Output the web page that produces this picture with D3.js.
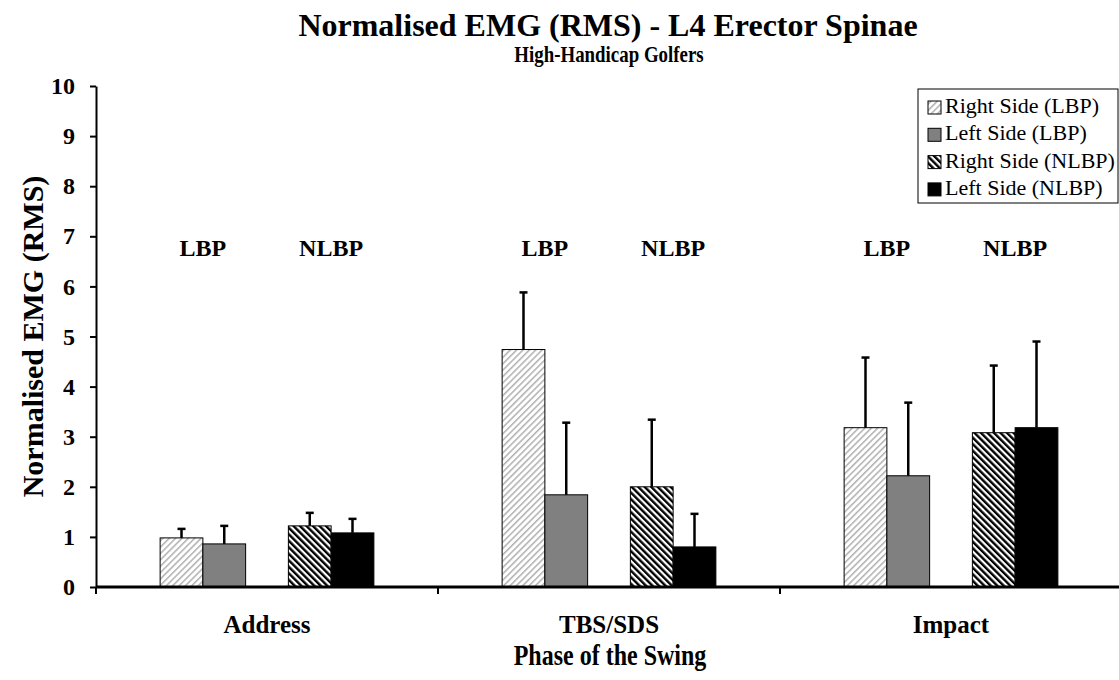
<!DOCTYPE html>
<html>
<head>
<meta charset="utf-8">
<script src="https://cdn.jsdelivr.net/npm/d3@7"></script>
<style>
  body { margin: 0; background: #fff; }
  svg text { font-family: "Liberation Serif", "Times New Roman", serif; }
</style>
</head>
<body>
<div id="chartDiv"></div>
<script>
'use strict';

// data
const phases = ['Address', 'TBS/SDS', 'Impact'];
const seriesNames = ['Right Side (LBP)', 'Left Side (LBP)', 'Right Side (NLBP)', 'Left Side (NLBP)'];
const rightLBP  = [0.98, 4.74, 3.18];
const leftLBP   = [0.86, 1.84, 2.22];
const rightNLBP = [1.22, 2.00, 3.08];
const leftNLBP  = [1.08, 0.80, 3.18];
const rightLBPErr  = [0.18, 1.14, 1.40];
const leftLBPErr   = [0.36, 1.44, 1.46];
const rightNLBPErr = [0.26, 1.34, 1.34];
const leftNLBPErr  = [0.28, 0.66, 1.72];
const groupLabels = ['LBP', 'NLBP'];
const yTicks = [0, 1, 2, 3, 4, 5, 6, 7, 8, 9, 10];

const W = 1119, H = 680;
const margin = { left: 96, top: 86, bottom: 93 };

const svg = d3.select('#chartDiv').append('svg')
    .attr('width', W).attr('height', H);

const defs = svg.append('defs');
// light hatch "///"
const p1 = defs.append('pattern').attr('id', 'hatchLight')
    .attr('patternUnits', 'userSpaceOnUse').attr('width', 4.5).attr('height', 4.5)
    .attr('patternTransform', 'rotate(45)');
p1.append('rect').attr('width', 4.5).attr('height', 4.5).attr('fill', '#fff');
p1.append('rect').attr('width', 1.5).attr('height', 4.5).attr('fill', '#b0b0b0');
// dark hatch "\\\"
const p2 = defs.append('pattern').attr('id', 'hatchDark')
    .attr('patternUnits', 'userSpaceOnUse').attr('width', 4.6).attr('height', 4.6)
    .attr('patternTransform', 'rotate(-45)');
p2.append('rect').attr('width', 4.6).attr('height', 4.6).attr('fill', '#fff');
p2.append('rect').attr('width', 2.4).attr('height', 4.6).attr('fill', '#000');

const fills = ['url(#hatchLight)', '#808080', 'url(#hatchDark)', '#000'];

const x0 = d3.scaleBand().domain(phases).range([margin.left, margin.left + 3 * 342]);
// five slots per phase, the middle one left empty
const slots = [0, 1, 2, 3, 4];
const seriesSlot = [0, 1, 3, 4];
const x1 = d3.scaleBand().domain(slots).range([0, x0.bandwidth()]).paddingOuter(1.5);
const y = d3.scaleLinear().domain([0, 10]).range([H - margin.bottom, margin.top]);

const values = [rightLBP, leftLBP, rightNLBP, leftNLBP];
const errs = [rightLBPErr, leftLBPErr, rightNLBPErr, leftNLBPErr];

const bars = [];
phases.forEach((ph, i) => {
    values.forEach((vals, s) => {
        bars.push({ phase: ph, s: s, v: vals[i], e: errs[s][i] });
    });
});

const g = svg.append('g');

g.selectAll('rect.bar').data(bars).enter().append('rect')
    .attr('class', 'bar')
    .attr('x', d => x0(d.phase) + x1(seriesSlot[d.s]))
    .attr('y', d => y(d.v))
    .attr('width', x1.bandwidth())
    .attr('height', d => y(0) - y(d.v))
    .attr('fill', d => fills[d.s])
    .attr('stroke', '#000').attr('stroke-width', 1);

// error bars (upper only)
const cx = d => x0(d.phase) + x1(seriesSlot[d.s]) + x1.bandwidth() / 2;
g.selectAll('line.err').data(bars).enter().append('line')
    .attr('x1', cx).attr('x2', cx)
    .attr('y1', d => y(d.v)).attr('y2', d => y(d.v + d.e))
    .attr('stroke', '#000').attr('stroke-width', 2.5);
g.selectAll('line.cap').data(bars).enter().append('line')
    .attr('x1', d => cx(d) - 4).attr('x2', d => cx(d) + 4)
    .attr('y1', d => y(d.v + d.e)).attr('y2', d => y(d.v + d.e))
    .attr('stroke', '#000').attr('stroke-width', 2.5);

// group labels LBP / NLBP
phases.forEach(ph => {
    groupLabels.forEach((lab, k) => {
        g.append('text')
            .attr('x', x0(ph) + x1(k * 3) + x1.bandwidth())
            .attr('y', y(6.6))
            .attr('text-anchor', 'middle')
            .attr('font-size', 24).attr('font-weight', 'bold')
            .text(lab);
    });
});

// axes
const yAxis = svg.append('g')
    .attr('transform', `translate(${margin.left},0)`)
    .call(d3.axisLeft(y).tickValues(yTicks).tickSize(6).tickSizeOuter(0).tickPadding(15));
yAxis.select('.domain').attr('stroke-width', 2);
yAxis.selectAll('.tick line').attr('stroke-width', 2);
yAxis.selectAll('.tick text').attr('font-size', 24).attr('font-weight', 'bold')
    .attr('font-family', '"Liberation Serif", serif').attr('fill', '#000');

const xAxis = svg.append('g')
    .attr('transform', `translate(0,${y(0)})`);
xAxis.append('line').attr('x1', margin.left).attr('x2', W)
    .attr('stroke', '#000').attr('stroke-width', 3);
xAxis.selectAll('line.xt').data(phases).enter().append('line')
    .attr('x1', d => x0(d)).attr('x2', d => x0(d))
    .attr('y1', 0).attr('y2', 7)
    .attr('stroke', '#000').attr('stroke-width', 2);
xAxis.selectAll('text').data(phases).enter().append('text')
    .attr('x', d => x0(d) + x0.bandwidth() / 2)
    .attr('y', 46)
    .attr('text-anchor', 'middle')
    .attr('font-size', 25).attr('font-weight', 'bold')
    .text(d => d);

// titles
svg.append('text').attr('x', 608).attr('y', 36).attr('text-anchor', 'middle')
    .attr('font-size', 32).attr('font-weight', 'bold')
    .text('Normalised EMG (RMS) - L4 Erector Spinae');
svg.append('text').attr('transform', 'translate(609,62) scale(0.84,1)')
    .attr('text-anchor', 'middle')
    .attr('font-size', 22.5).attr('font-weight', 'bold')
    .text('High-Handicap Golfers');
svg.append('text').attr('transform', 'translate(610,665) scale(0.8,1)')
    .attr('text-anchor', 'middle')
    .attr('font-size', 30).attr('font-weight', 'bold')
    .text('Phase of the Swing');
svg.append('text')
    .attr('transform', `translate(43,${(y(0) + y(10)) / 2}) rotate(-90)`)
    .attr('text-anchor', 'middle')
    .attr('font-size', 30).attr('font-weight', 'bold')
    .text('Normalised EMG (RMS)');

// legend
const legend = svg.append('g').attr('transform', 'translate(918,89)');
legend.append('rect').attr('width', 200).attr('height', 114)
    .attr('fill', '#fff').attr('stroke', '#000').attr('stroke-width', 1);
seriesNames.forEach((nm, i) => {
    const row = legend.append('g').attr('transform', `translate(0,${24 + i * 27.3})`);
    row.append('rect').attr('x', 10).attr('y', -12).attr('width', 13).attr('height', 13)
        .attr('fill', fills[i]).attr('stroke', '#000').attr('stroke-width', 1);
    row.append('text').attr('x', 27).attr('y', 0)
        .attr('font-size', 22).text(nm);
});
</script>
</body>
</html>
